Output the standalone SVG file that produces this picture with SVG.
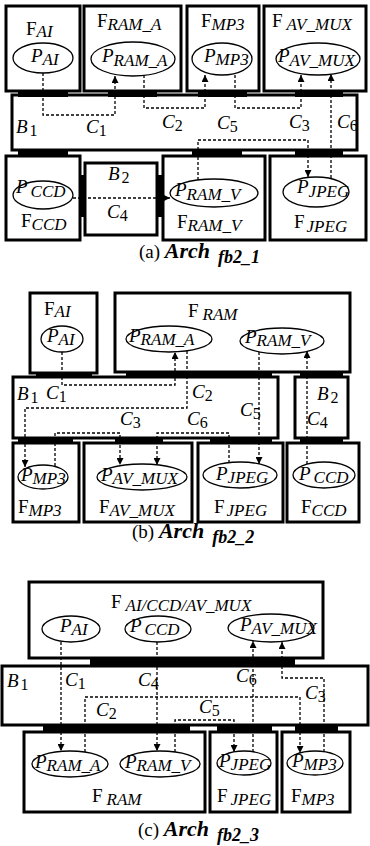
<svg xmlns="http://www.w3.org/2000/svg" width="370" height="846" viewBox="0 0 370 846">
<style>
.box{fill:#fff;stroke:#000;stroke-width:3}
.port{fill:#000}
.proc{fill:#fff;stroke:#000;stroke-width:1.3}
.conn{fill:none;stroke:#000;stroke-width:1.3;stroke-dasharray:3 2}
text{font-family:"Liberation Serif","Times New Roman",serif;font-size:19px;fill:#000}
.i{font-style:italic}
.s{font-size:17px;font-style:italic}
.d{font-size:16px;font-style:normal}
.bi{font-weight:bold;font-style:italic;font-size:22px}
.bis{font-weight:bold;font-style:italic;font-size:18px}
</style>
<defs>
<marker id="ah" viewBox="0 0 10 10" refX="10" refY="5" markerWidth="8" markerHeight="7" orient="auto" markerUnits="userSpaceOnUse"><path d="M0,0 L10,5 L0,10 z" fill="#000"/></marker>
</defs>

<!-- ================= (a) ================= -->
<g id="a_B1"><rect class="box" x="12" y="95" width="345" height="55"/>
<text class="i" x="16" y="133">B<tspan class="d" dx="2" dy="3">1</tspan></text></g>
<g id="a_ports">
<rect class="port" x="18" y="91" width="50" height="6"/><rect class="port" x="108" y="91" width="49" height="6"/>
<rect class="port" x="198" y="91" width="49" height="6"/><rect class="port" x="295" y="91" width="48" height="6"/>
<rect class="port" x="18" y="150" width="50" height="6"/><rect class="port" x="192" y="150" width="50" height="6"/>
<rect class="port" x="295" y="150" width="48" height="6"/>
<rect class="port" x="80" y="175" width="5" height="42"/><rect class="port" x="157" y="175" width="6" height="42"/>
</g>
<g id="a_F_AI"><rect class="box" x="6" y="6" width="74" height="85"/><text x="26" y="35">F<tspan class="s" dy="2">AI</tspan></text>
<g id="a_P_AI"><ellipse class="proc" cx="43" cy="58" rx="30" ry="15"/><text class="i" x="31" y="62">P<tspan class="s" dy="3">AI</tspan></text></g></g>
<g id="a_F_RAM_A"><rect class="box" x="84" y="6" width="97" height="85"/><text x="97" y="27">F<tspan class="s" dy="3">RAM_A</tspan></text>
<g id="a_P_RAM_A"><ellipse class="proc" cx="133" cy="59" rx="42" ry="17"/><text class="i" x="102" y="62">P<tspan class="s" dy="4">RAM_A</tspan></text></g></g>
<g id="a_F_MP3"><rect class="box" x="187" y="6" width="72" height="85"/><text x="201" y="27">F<tspan class="s" dy="3">MP3</tspan></text>
<g id="a_P_MP3"><ellipse class="proc" cx="222" cy="59" rx="30" ry="16"/><text class="i" x="204" y="62">P<tspan class="s" dy="3">MP3</tspan></text></g></g>
<g id="a_F_AV_MUX"><rect class="box" x="264" y="6" width="102" height="85"/><text x="272" y="27">F<tspan class="s" dx="4" dy="3">AV_MUX</tspan></text>
<g id="a_P_AV_MUX"><ellipse class="proc" cx="318" cy="59" rx="42" ry="16"/><text class="i" x="278" y="62">P<tspan class="s" dy="4">AV_MUX</tspan></text></g></g>
<g id="a_F_CCD"><rect class="box" x="6" y="156" width="74" height="84"/><text x="21" y="227">F<tspan class="s" dy="3">CCD</tspan></text>
<g id="a_P_CCD"><ellipse class="proc" cx="43" cy="195" rx="30" ry="14"/><text class="i" x="16" y="193">P<tspan class="s" dx="3" dy="4">CCD</tspan></text></g></g>
<g id="a_B2"><rect class="box" x="85" y="163" width="72" height="72"/><text class="i" x="108" y="180">B<tspan class="d" dx="2" dy="3">2</tspan></text></g>
<g id="a_F_RAM_V"><rect class="box" x="163" y="156" width="102" height="84"/><text x="177" y="228">F<tspan class="s" dy="3">RAM_V</tspan></text>
<g id="a_P_RAM_V"><ellipse class="proc" cx="214" cy="193" rx="44" ry="14"/><text class="i" x="175" y="196">P<tspan class="s" dy="4">RAM_V</tspan></text></g></g>
<g id="a_F_JPEG"><rect class="box" x="270" y="156" width="96" height="84"/><text x="294" y="228">F<tspan class="s" dx="2" dy="4">JPEG</tspan></text>
<g id="a_P_JPEG"><ellipse class="proc" cx="316" cy="192" rx="33" ry="15"/><text class="i" x="297" y="193">P<tspan class="s" dy="4">JPEG</tspan></text></g></g>
<g id="a_connectors">
<path class="conn" d="M43,73 V115 H115 V76" marker-end="url(#ah)"/>
<path class="conn" d="M144,75 V108 H205 V75" marker-end="url(#ah)"/>
<path class="conn" d="M235,75 V108 H301 V75" marker-end="url(#ah)"/>
<path class="conn" d="M198,180 V140 H308 V177" marker-end="url(#ah)"/>
<path class="conn" d="M331,178 V74" marker-end="url(#ah)"/>
<path class="conn" d="M73,198 H170" marker-end="url(#ah)"/>
<text class="i" x="86" y="133">C<tspan class="d" dy="3">1</tspan></text>
<text class="i" x="162" y="128">C<tspan class="d" dy="3">2</tspan></text>
<text class="i" x="217" y="129">C<tspan class="d" dy="3">5</tspan></text>
<text class="i" x="289" y="128">C<tspan class="d" dy="3">3</tspan></text>
<text class="i" x="337" y="128">C<tspan class="d" dy="3">6</tspan></text>
<text class="i" x="107" y="218">C<tspan class="d" dy="3">4</tspan></text>
</g>
<text x="139" y="258">(a) <tspan class="bi">Arch</tspan><tspan class="bis" dx="8" dy="5">fb2_1</tspan></text>

<!-- ================= (b) ================= -->
<g id="b_F_AI"><rect class="box" x="30" y="293" width="67" height="80"/><text x="44" y="315">F<tspan class="s" dy="2">AI</tspan></text>
<g id="b_P_AI"><ellipse class="proc" cx="62" cy="339" rx="21" ry="13"/><text class="i" x="47" y="342">P<tspan class="s" dy="3">AI</tspan></text></g></g>
<g id="b_F_RAM"><rect class="box" x="115" y="293" width="235" height="79"/><text x="188" y="317">F<tspan class="s" dx="4" dy="3">RAM</tspan></text>
<g id="b_P_RAM_A"><ellipse class="proc" cx="169" cy="339" rx="43" ry="13"/><text class="i" x="129" y="342">P<tspan class="s" dy="3">RAM_A</tspan></text></g>
<g id="b_P_RAM_V"><ellipse class="proc" cx="282" cy="341" rx="42" ry="13"/><text class="i" x="245" y="343">P<tspan class="s" dy="3">RAM_V</tspan></text></g></g>
<g id="b_ports">
<rect class="port" x="36" y="372" width="56" height="6"/><rect class="port" x="126" y="372" width="146" height="6"/>
<rect class="port" x="300" y="372" width="43" height="6"/>
<rect class="port" x="18" y="438" width="55" height="6"/><rect class="port" x="115" y="438" width="48" height="6"/>
<rect class="port" x="210" y="438" width="62" height="6"/><rect class="port" x="300" y="438" width="43" height="6"/>
</g>
<g id="b_B1"><rect class="box" x="13" y="377" width="265" height="61"/><text class="i" x="17" y="400">B<tspan class="d" dx="2" dy="3">1</tspan></text></g>
<g id="b_B2"><rect class="box" x="295" y="377" width="53" height="61"/><text class="i" x="317" y="400">B<tspan class="d" dx="2" dy="3">2</tspan></text></g>
<g id="b_F_MP3"><rect class="box" x="13" y="443" width="66" height="79"/><text x="18" y="513">F<tspan class="s" dy="3">MP3</tspan></text>
<g id="b_P_MP3"><ellipse class="proc" cx="43" cy="477" rx="25" ry="12"/><text class="i" x="21" y="481">P<tspan class="s" dy="3">MP3</tspan></text></g></g>
<g id="b_F_AV_MUX"><rect class="box" x="84" y="443" width="108" height="79"/><text x="99" y="513">F<tspan class="s" dy="3">AV_MUX</tspan></text>
<g id="b_P_AV_MUX"><ellipse class="proc" cx="142" cy="477" rx="45" ry="13"/><text class="i" x="101" y="481">P<tspan class="s" dy="3">AV_MUX</tspan></text></g></g>
<g id="b_F_JPEG"><rect class="box" x="198" y="443" width="85" height="79"/><text x="214" y="513">F<tspan class="s" dx="2" dy="3">JPEG</tspan></text>
<g id="b_P_JPEG"><ellipse class="proc" cx="240" cy="475" rx="37" ry="13"/><text class="i" x="216" y="480">P<tspan class="s" dy="3">JPEG</tspan></text></g></g>
<g id="b_F_CCD"><rect class="box" x="287" y="443" width="72" height="79"/><text x="301" y="513">F<tspan class="s" dy="3">CCD</tspan></text>
<g id="b_P_CCD"><ellipse class="proc" cx="324" cy="475" rx="31" ry="13"/><text class="i" x="299" y="480">P<tspan class="s" dx="3" dy="3">CCD</tspan></text></g></g>
<g id="b_connectors">
<path class="conn" d="M62,352 V385 H175 V352" marker-end="url(#ah)"/>
<path class="conn" d="M187,351 V408 H25 V467" marker-end="url(#ah)"/>
<path class="conn" d="M259,352 V464" marker-end="url(#ah)"/>
<path class="conn" d="M307,464 V351" marker-end="url(#ah)"/>
<path class="conn" d="M55,466 V433 H120 V465" marker-end="url(#ah)"/>
<path class="conn" d="M229,463 V433 H157 V465" marker-end="url(#ah)"/>
<text class="i" x="46" y="399">C<tspan class="d" dy="3">1</tspan></text>
<text class="i" x="192" y="398">C<tspan class="d" dy="3">2</tspan></text>
<text class="i" x="240" y="416">C<tspan class="d" dy="3">5</tspan></text>
<text class="i" x="307" y="425">C<tspan class="d" dy="3">4</tspan></text>
<text class="i" x="120" y="425">C<tspan class="d" dy="3">3</tspan></text>
<text class="i" x="187" y="425">C<tspan class="d" dy="3">6</tspan></text>
</g>
<text x="132" y="538">(b) <tspan class="bi">Arch</tspan><tspan class="bis" dx="8" dy="5">fb2_2</tspan></text>

<!-- ================= (c) ================= -->
<g id="c_F_AI_CCD_AV_MUX"><rect class="box" x="29" y="582" width="294" height="76"/><text x="111" y="608">F<tspan class="s" dx="4" dy="3">AI/CCD/AV_MUX</tspan></text>
<g id="c_P_AI"><ellipse class="proc" cx="71" cy="629" rx="29" ry="13"/><text class="i" x="60" y="632">P<tspan class="s" dy="3">AI</tspan></text></g>
<g id="c_P_CCD"><ellipse class="proc" cx="158" cy="629" rx="33" ry="13"/><text class="i" x="130" y="632">P<tspan class="s" dx="3" dy="3">CCD</tspan></text></g>
<g id="c_P_AV_MUX"><ellipse class="proc" cx="271" cy="628" rx="43" ry="14"/><text class="i" x="240" y="631">P<tspan class="s" dy="3">AV_MUX</tspan></text></g></g>
<g id="c_ports">
<rect class="port" x="90" y="657" width="205" height="9"/>
<rect class="port" x="43" y="725" width="147" height="7"/><rect class="port" x="217" y="725" width="55" height="7"/>
<rect class="port" x="295" y="725" width="43" height="7"/>
</g>
<g id="c_B1"><rect class="box" x="2" y="666" width="366" height="59"/><text class="i" x="7" y="687">B<tspan class="d" dx="2" dy="3">1</tspan></text></g>
<g id="c_F_RAM"><rect class="box" x="24" y="732" width="181" height="80"/><text x="92" y="802">F<tspan class="s" dx="4" dy="3">RAM</tspan></text>
<g id="c_P_RAM_A"><ellipse class="proc" cx="70" cy="764" rx="38" ry="13"/><text class="i" x="35" y="768">P<tspan class="s" dy="3">RAM_A</tspan></text></g>
<g id="c_P_RAM_V"><ellipse class="proc" cx="160" cy="764" rx="40" ry="13"/><text class="i" x="125" y="768">P<tspan class="s" dy="3">RAM_V</tspan></text></g></g>
<g id="c_F_JPEG"><rect class="box" x="210" y="732" width="67" height="80"/><text x="217" y="802">F<tspan class="s" dx="3" dy="3">JPEG</tspan></text>
<g id="c_P_JPEG"><ellipse class="proc" cx="244" cy="763" rx="27" ry="12"/><text class="i" x="219" y="767">P<tspan class="s" dy="3">JPEG</tspan></text></g></g>
<g id="c_F_MP3"><rect class="box" x="282" y="732" width="68" height="80"/><text x="291" y="802">F<tspan class="s" dy="3">MP3</tspan></text>
<g id="c_P_MP3"><ellipse class="proc" cx="315" cy="763" rx="28" ry="12"/><text class="i" x="292" y="767">P<tspan class="s" dy="3">MP3</tspan></text></g></g>
<g id="c_connectors">
<path class="conn" d="M61,642 V751" marker-end="url(#ah)"/>
<path class="conn" d="M157,642 V751" marker-end="url(#ah)"/>
<path class="conn" d="M85,752 V697 H300 V753" marker-end="url(#ah)"/>
<path class="conn" d="M253,752 V641" marker-end="url(#ah)"/>
<path class="conn" d="M324,752 V678 H282 V642" marker-end="url(#ah)"/>
<path class="conn" d="M175,752 V720 H234 V752" marker-end="url(#ah)"/>
<text class="i" x="65" y="686">C<tspan class="d" dy="3">1</tspan></text>
<text class="i" x="138" y="686">C<tspan class="d" dy="3">4</tspan></text>
<text class="i" x="236" y="682">C<tspan class="d" dy="3">6</tspan></text>
<text class="i" x="305" y="699">C<tspan class="d" dy="3">3</tspan></text>
<text class="i" x="96" y="716">C<tspan class="d" dy="3">2</tspan></text>
<text class="i" x="199" y="713">C<tspan class="d" dy="3">5</tspan></text>
</g>
<text x="138" y="836">(c) <tspan class="bi">Arch</tspan><tspan class="bis" dx="8" dy="5">fb2_3</tspan></text>
</svg>
